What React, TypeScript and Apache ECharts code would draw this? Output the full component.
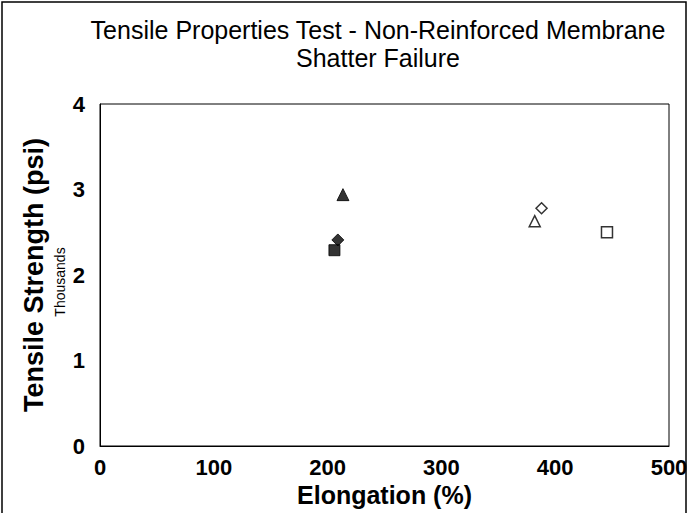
import React, { useEffect, useRef } from "react";
import * as echarts from "echarts";

const titleLines = ["Tensile Properties Test - Non-Reinforced Membrane", "Shatter Failure"];
const xTicks = [0, 100, 200, 300, 400, 500];
const yTicks = [0, 1, 2, 3, 4];

const filledTriangle = [[213.5, 2.94]];
const filledDiamond = [[209, 2.41]];
const filledSquare = [[206, 2.29]];
const openDiamond = [[388, 2.78]];
const openTriangle = [[382, 2.63]];
const openSquare = [[445.5, 2.5]];

export default function App() {
  const ref = useRef<HTMLDivElement>(null);
  useEffect(() => {
    const chart = echarts.init(ref.current!, null, { renderer: "svg" });
    const font = "Liberation Sans, Arial, sans-serif";
    const mk = (name: string, data: number[][], symbol: string, size: number, filled: boolean) => ({
      name,
      type: "scatter",
      data,
      symbol,
      symbolSize: size,
      itemStyle: filled
        ? { color: "#000", borderColor: "#000", borderWidth: 1 }
        : { color: "#fff", borderColor: "#000", borderWidth: 1.5 },
    });
    chart.setOption({
      animation: false,
      backgroundColor: "#fff",
      title: {
        text: titleLines.join("\n"),
        left: 373,
        textAlign: "center",
        top: 11,
        textStyle: { fontFamily: font, fontSize: 25, fontWeight: "normal", color: "#000", lineHeight: 28 },
      },
      grid: {
        left: 100,
        right: 20,
        top: 104,
        bottom: 67,
        outerBoundsMode: "none",
        containLabel: false,
        show: true,
        borderColor: "#000",
        borderWidth: 1,
        backgroundColor: "#fff",
      },
      xAxis: {
        type: "value",
        min: xTicks[0],
        max: xTicks[xTicks.length - 1],
        interval: 100,
        name: "Elongation (%)",
        nameLocation: "middle",
        nameGap: 35,
        nameTextStyle: { fontFamily: font, fontSize: 25, fontWeight: "bold", color: "#000" },
        axisLine: { lineStyle: { color: "#000", width: 1 } },
        axisTick: { show: false },
        splitLine: { show: false },
        axisLabel: { fontFamily: font, fontSize: 22, fontWeight: "bold", color: "#000", margin: 10 },
      },
      yAxis: {
        type: "value",
        min: yTicks[0],
        max: yTicks[yTicks.length - 1],
        interval: 1,
        name: "Tensile Strength (psi)",
        nameLocation: "middle",
        nameGap: 53,
        nameTextStyle: { fontFamily: font, fontSize: 27, fontWeight: "bold", color: "#000" },
        axisLine: { lineStyle: { color: "#000", width: 1 } },
        axisTick: { show: false },
        splitLine: { show: false },
        axisLabel: { fontFamily: font, fontSize: 22, fontWeight: "bold", color: "#000", margin: 15 },
      },
      graphic: [
        {
          type: "rect",
          shape: { x: 2, y: 2, width: 684, height: 530 },
          style: { fill: "none", stroke: "#000", lineWidth: 1.5 },
          silent: true,
        },
        {
          type: "text",
          x: 60,
          y: 282,
          rotation: Math.PI / 2,
          style: {
            text: "Thousands",
            fontFamily: font,
            fontSize: 14,
            fill: "#000",
            align: "center",
            verticalAlign: "middle",
          },
        },
      ],
      series: [
        mk("Filled Triangle", filledTriangle, "triangle", 12, true),
        mk("Filled Diamond", filledDiamond, "diamond", 12, true),
        mk("Filled Square", filledSquare, "rect", 11, true),
        mk("Open Diamond", openDiamond, "diamond", 11, false),
        mk("Open Triangle", openTriangle, "triangle", 11, false),
        mk("Open Square", openSquare, "rect", 11, false),
      ],
    });
    return () => chart.dispose();
  }, []);
  return <div ref={ref} style={{ width: 689, height: 513, position: "absolute", left: 0, top: 0 }} />;
}
